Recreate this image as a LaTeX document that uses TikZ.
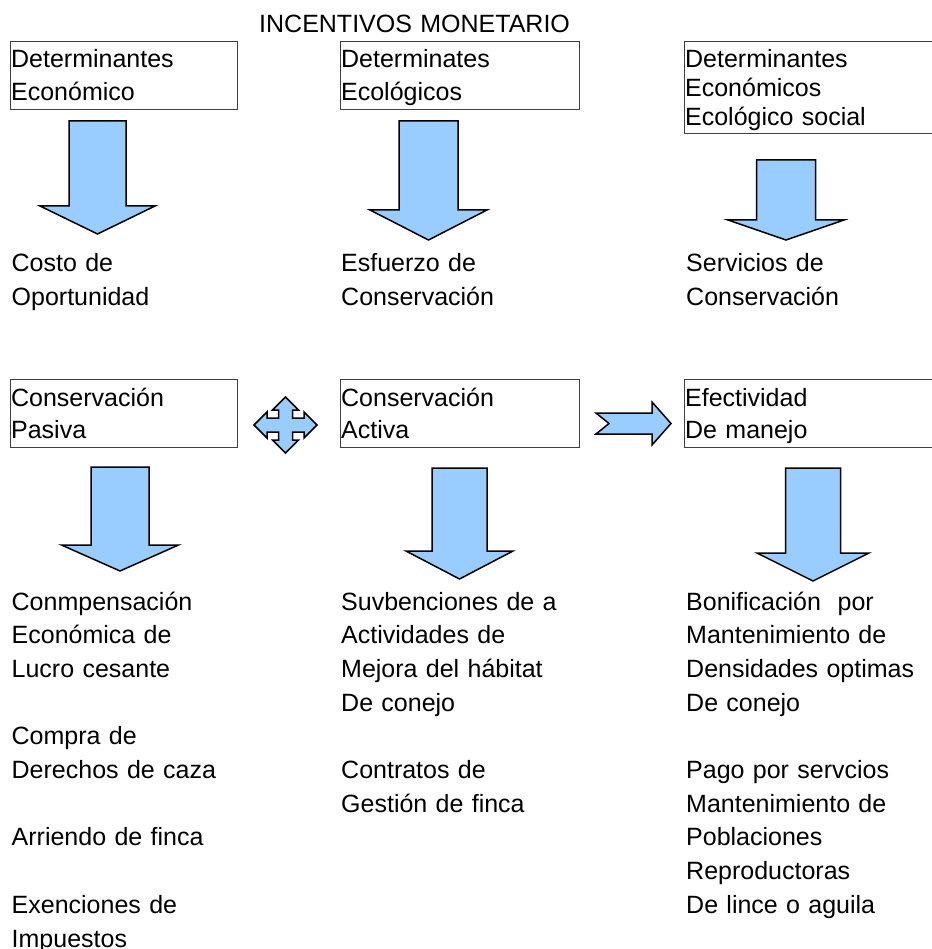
\documentclass[tikz,border=0pt]{standalone}
\usepackage{fontspec}
\setmainfont{Liberation Sans}
\definecolor{azul}{HTML}{99CCFF}

\begin{document}
\begin{tikzpicture}[x=1pt,y=-1pt,
    caja/.style={draw=black!75,line width=0.9pt,anchor=north west,inner xsep=0.7pt,inner ysep=0pt,align=left,font=\fontsize{25}{33}\selectfont},
    texto/.style={anchor=base west,inner sep=0pt,align=left,text width=260pt,font=\fontsize{25}{33.7}\selectfont},
    flecha/.style={draw=black,fill=azul,line width=1.5pt,line join=miter}]
    \useasboundingbox (0,0) rectangle (931,949);
    \node[texto,text width=330pt] (titulo) at (259,33) {INCENTIVOS MONETARIO};

    \node[caja,text width=225.6pt,text height=26.5pt,text depth=41.5pt] (detEco) at (10,41) {Determinantes\\Económico};
    \node[caja,text width=237.6pt,text height=26.5pt,text depth=41.5pt] (detEcol) at (340,41) {Determinates\\Ecológicos};
    \node[caja,text width=249.6pt,text height=26.5pt,text depth=65.5pt,font=\fontsize{25}{28.7}\selectfont] (detSoc) at (684,41) {Determinantes\\Económicos\\Ecológico social};

    \node[texto] (costo) at (11.5,272) {Costo de\\Oportunidad};
    \node[texto] (esfuerzo) at (341,272) {Esfuerzo de\\Conservación};
    \node[texto] (servicios) at (686,272) {Servicios de\\Conservación};

    \node[caja,text width=225.6pt,text height=27pt,text depth=41pt,font=\fontsize{25}{32}\selectfont] (consPas) at (10,379) {Conservación\\Pasiva};
    \node[caja,text width=237.6pt,text height=27pt,text depth=41pt,font=\fontsize{25}{32}\selectfont] (consAct) at (340,379) {Conservación\\Activa};
    \node[caja,text width=249.6pt,text height=27pt,text depth=41pt,font=\fontsize{25}{32}\selectfont] (efect) at (684,379) {Efectividad\\De manejo};

    \node[texto] (pasiva) at (11.5,610) {Conmpensación\\Económica de\\Lucro cesante\\[\baselineskip]Compra de\\Derechos de caza\\[\baselineskip]Arriendo de finca\\[\baselineskip]Exenciones de\\Impuestos};
    \node[texto] (activa) at (341,610) {Suvbenciones de a\\Actividades de\\Mejora del hábitat\\De conejo\\[\baselineskip]Contratos de\\Gestión de finca};
    \node[texto] (manejo) at (686,610) {Bonificación~ por\\Mantenimiento de\\Densidades optimas\\De conejo\\[\baselineskip]Pago por servcios\\Mantenimiento de\\Poblaciones\\Reproductoras\\De lince o aguila};

    \foreach \cx/\sh/\wh/\ya/\yc/\yp in {97.5/28.5/57.5/121/206/234,428.5/29.5/58.5/121/210/240,786/29.5/58/160/220/240,
                                         120/29/58.5/467/545/571,459.5/27.5/53.5/468/551/579,813/27.5/56/468/553/581}
        \draw[flecha] (\cx-\sh,\ya) -- (\cx+\sh,\ya) -- (\cx+\sh,\yc) -- (\cx+\wh,\yc) -- (\cx,\yp)
            -- (\cx-\wh,\yc) -- (\cx-\sh,\yc) -- cycle;

    \draw[flecha,shift={(285.5,425)}] (0,-28) -- (13,-15) -- (7,-15) -- (7,-7) -- (18.5,-7) -- (18.5,-13) -- (31.5,0)
        -- (18.5,13) -- (18.5,7) -- (7,7) -- (7,15) -- (13,15) -- (0,28) -- (-13,15) -- (-7,15) -- (-7,7)
        -- (-18.5,7) -- (-18.5,13) -- (-31.5,0) -- (-18.5,-13) -- (-18.5,-7) -- (-7,-7) -- (-7,-15) -- (-13,-15) -- cycle;
    \draw[flecha] (596,413) -- (652,413) -- (652,402) -- (671,423.5) -- (652,445) -- (652,434) -- (596,434) -- (609,423.5) -- cycle;
\end{tikzpicture}
\end{document}
